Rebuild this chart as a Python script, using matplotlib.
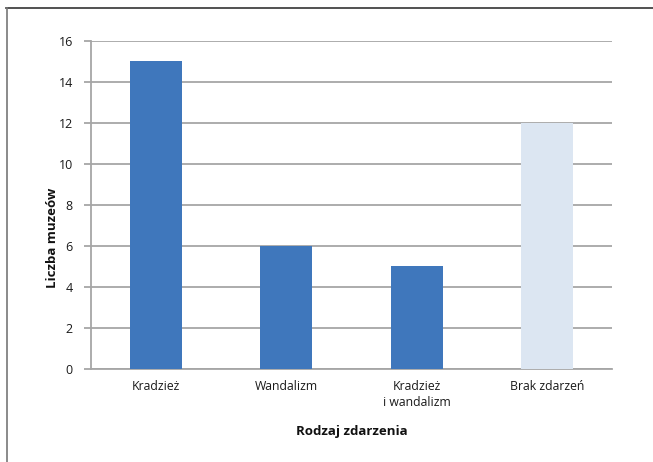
import matplotlib
matplotlib.use("Agg")
import matplotlib.pyplot as plt
from matplotlib.lines import Line2D

categories = ["Kradzież", "Wandalizm", "Kradzież\ni wandalizm", "Brak zdarzeń"]
values = [15, 6, 5, 12]
bar_colors = ["#3F77BC", "#3F77BC", "#3F77BC", "#DCE6F2"]
y_ticks = [0, 2, 4, 6, 8, 10, 12, 14, 16]

plt.rcParams["font.family"] = ["Open Sans", "DejaVu Sans"]

fig = plt.figure(figsize=(6.53, 4.62), dpi=100)
ax = fig.add_axes([0.1394, 0.2013, 0.7976, 0.71])

x = range(len(categories))
ax.bar(x, values, width=0.4, color=bar_colors, zorder=3)

ax.set_xlim(-0.5, len(categories) - 0.5)
ax.set_ylim(0, 16)
ax.set_yticks(y_ticks)
ax.set_yticklabels([str(t) for t in y_ticks], fontsize=9, color="#1a1a1a")
ax.set_xticks(list(x))
ax.set_xticklabels(categories, fontsize=8.8, color="#1a1a1a", linespacing=1.25)

ax.grid(axis="y", color="#A6A6A6", linewidth=1.3, zorder=0)
ax.tick_params(axis="y", length=5, width=1.3, color="#A6A6A6", pad=8)
ax.tick_params(axis="x", length=0, pad=8)

for side in ["top", "right"]:
    ax.spines[side].set_visible(False)
for side in ["left", "bottom"]:
    ax.spines[side].set_color("#A6A6A6")
    ax.spines[side].set_linewidth(1.3)

ax.set_xlabel("Rodzaj zdarzenia", fontsize=9.5, fontweight="bold", color="#111111", labelpad=12)
fig.text(0.080, 0.485, "Liczba muzeów", rotation=90, fontsize=9.5, fontweight="bold",
         color="#111111", ha="center", va="center")

# Frame lines along the top and left edges of the figure
fig.add_artist(Line2D([0.009, 1.0], [0.983, 0.983], color="#333333", linewidth=1.2))
fig.add_artist(Line2D([0.0106, 0.0106], [0.0, 0.983], color="#777777", linewidth=1.2))

fig.savefig("out.png", dpi=100)
